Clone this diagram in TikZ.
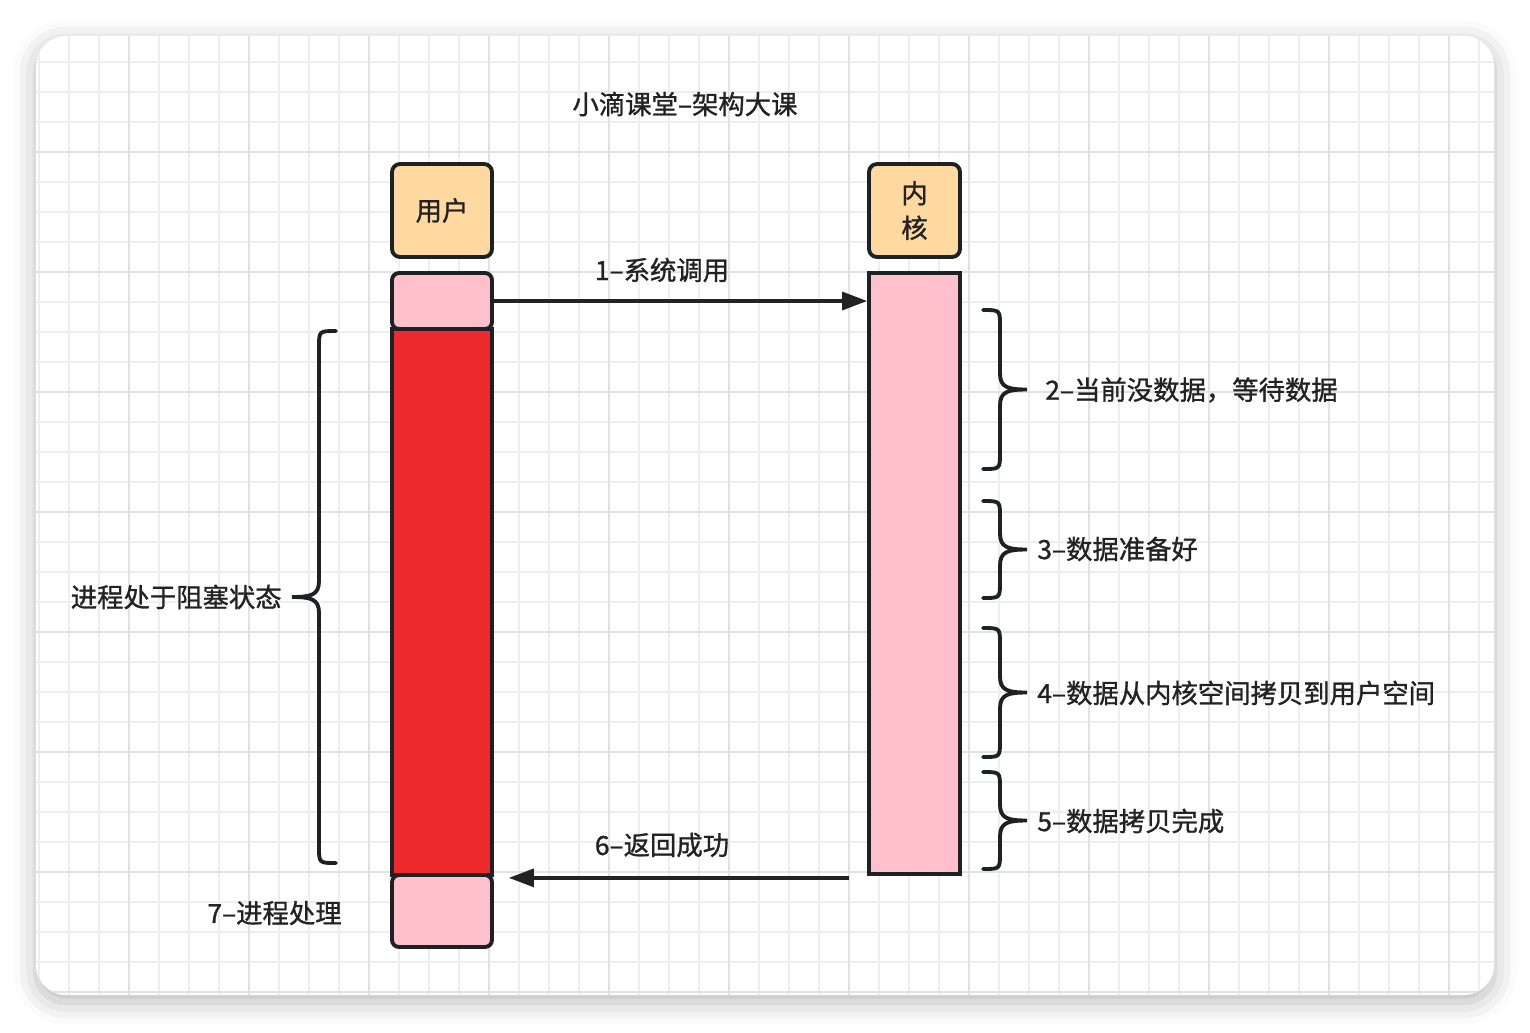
\documentclass[tikz,border=0pt]{standalone}
\usepackage{fontspec}
\setmainfont{Noto Sans CJK SC}[FakeBold=1.1]
\usetikzlibrary{arrows.meta,shadows.blur}

\definecolor{edge}{HTML}{1E2124}
\definecolor{ink}{HTML}{222222}
\definecolor{hdrfill}{HTML}{FFD9A0}
\definecolor{lightpink}{HTML}{FFC0CB}
\definecolor{blockred}{HTML}{EE2A2C}
\definecolor{gridminor}{HTML}{EEEEEE}
\definecolor{gridmajor}{HTML}{E2E2E2}

\tikzset{
  lbl/.style={inner sep=0pt, text=ink, font=\fontsize{15}{18}\selectfont},
  hdr/.style={draw=edge, line width=2.2pt, fill=hdrfill, rounded corners=0.16cm, align=center, lbl},
  lane/.style={draw=edge, line width=2.2pt, fill=lightpink, inner sep=0pt},
  msg/.style={draw=ink, line width=1.9pt, -{Triangle[length=0.5cm, width=0.36cm]}},
  curly/.style={draw=edge, line width=2.2pt, line cap=round}
}

% brace: x of hook ends, direction (1 right / -1 left), top y, bottom y
\newcommand{\curlybrace}[4]{%
  \pgfmathsetmacro{\bxa}{#1+17*#2}%
  \pgfmathsetmacro{\bxb}{#1+44*#2}%
  \pgfmathsetmacro{\bxc}{#1+25*#2}%
  \pgfmathsetmacro{\bmid}{(#3+#4)/2}%
  \draw[curly] (#1,#3) .. controls (\bxa,#3) .. (\bxa,#3+16) -- (\bxa,\bmid-16)
    .. controls (\bxa,\bmid-2) and (\bxc,\bmid) .. (\bxb,\bmid)
    .. controls (\bxc,\bmid) and (\bxa,\bmid+2) .. (\bxa,\bmid+16) -- (\bxa,#4-16)
    .. controls (\bxa,#4) .. (#1,#4);}

\begin{document}
\begin{tikzpicture}[x=0.02cm, y=-0.02cm]
  \useasboundingbox (0,0) rectangle (1530,1032);
  % card with grid
  \fill[white, rounded corners=0.6cm, blur shadow={shadow xshift=0pt, shadow yshift=-4pt, shadow blur radius=13pt, shadow blur extra rounding=4pt, shadow opacity=28}]
    (36,36) rectangle (1494,995);
  \begin{scope}
    \clip[rounded corners=0.6cm] (36,36) rectangle (1494,995);
    \foreach \gx in {39,69,...,1494} \draw[gridminor, line width=1pt] (\gx,36) -- (\gx,995);
    \foreach \gy in {62,92,...,995} \draw[gridminor, line width=1pt] (36,\gy) -- (1494,\gy);
    \foreach \gx in {129,249,...,1494} \draw[gridmajor, line width=1pt] (\gx,36) -- (\gx,995);
    \foreach \gy in {32,152,...,995} \draw[gridmajor, line width=1pt] (36,\gy) -- (1494,\gy);
  \end{scope}

  % title
  \node[lbl] (title) at (685,104) {小滴课堂–架构大课};

  % lanes
  \node[hdr, minimum width=2cm, minimum height=1.86cm] (user) at (442,210.5) {用户};
  \node[hdr, minimum width=1.82cm, minimum height=1.86cm] (kernel) at (914.5,210.5) {内\\[0.06cm]核};
  \node[lane, rounded corners=0.14cm, minimum width=2cm, minimum height=1.12cm] (ucall) at (442,301) {};
  \node[lane, fill=blockred, minimum width=2cm, minimum height=10.92cm] (ublock) at (442,602) {};
  \node[lane, rounded corners=0.14cm, minimum width=2cm, minimum height=1.44cm] (uend) at (442,911) {};
  \node[lane, minimum width=1.82cm, minimum height=12.02cm] (kbody) at (914.5,573.5) {};

  % messages
  \draw[msg] (ucall.east) -- (ucall.east -| kbody.west);
  \node[lbl] (callmsg) at (662,270) {1–系统调用};
  \coordinate (retstart) at ([xshift=-0.36cm, yshift=-0.04cm]kbody.south west);
  \draw[msg] (retstart) -- ([xshift=0.3cm]retstart -| ublock.east);
  \node[lbl] (retmsg) at (662,845) {6–返回成功};

  % braces
  \curlybrace{336}{-1}{331}{863}
  \node[lbl, anchor=east] (blocked) at (282,597) {进程处于阻塞状态};
  \curlybrace{983}{1}{310}{469}
  \node[lbl, anchor=west] (nodata) at (1045,390) {2–当前没数据，等待数据};
  \curlybrace{983}{1}{501}{598}
  \node[lbl, anchor=west] (ready) at (1037,549) {3–数据准备好};
  \curlybrace{983}{1}{628}{757}
  \node[lbl, anchor=west] (copy) at (1037,693) {4–数据从内核空间拷贝到用户空间};
  \curlybrace{983}{1}{772}{869}
  \node[lbl, anchor=west] (done) at (1037,821) {5–数据拷贝完成};

  \node[lbl, anchor=east] (handle) at (342,913) {7–进程处理};
\end{tikzpicture}
\end{document}
